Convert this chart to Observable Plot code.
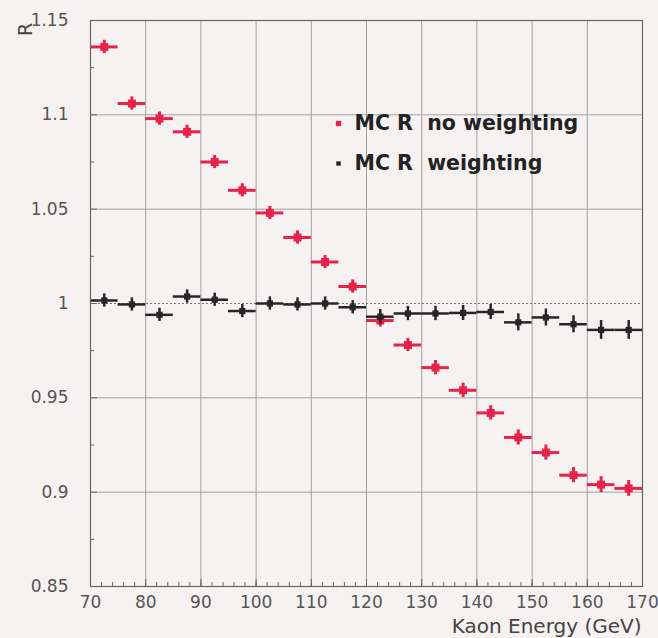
<!DOCTYPE html>
<html>
<head>
<meta charset="utf-8">
<script src="https://cdn.jsdelivr.net/npm/d3@7"></script>
<script src="https://cdn.jsdelivr.net/npm/@observablehq/plot@0.6"></script>
<style>
  html, body { margin: 0; padding: 0; background: #f6f2f2; }
  #chart { width: 658px; height: 638px; }
</style>
</head>
<body>
<div id="chart"></div>
<script>
// ---- data ----
const energy = [72.5, 77.5, 82.5, 87.5, 92.5, 97.5, 102.5, 107.5, 112.5, 117.5,
                122.5, 127.5, 132.5, 137.5, 142.5, 147.5, 152.5, 157.5, 162.5, 167.5];
const binHalfWidth = 2.5;
const rNoWeighting = [1.136, 1.106, 1.098, 1.091, 1.075, 1.060, 1.048, 1.035, 1.022, 1.009,
                      0.991, 0.978, 0.966, 0.954, 0.942, 0.929, 0.921, 0.909, 0.904, 0.902];
const errNoWeighting = [0.0035, 0.0035, 0.0035, 0.0035, 0.0035, 0.0035, 0.0035, 0.0035, 0.0035, 0.0035,
                        0.0035, 0.0035, 0.0038, 0.0038, 0.0038, 0.004, 0.004, 0.004, 0.0042, 0.0042];
const rWeighting = [1.0016, 0.9995, 0.994, 1.0037, 1.002, 0.996, 1.000, 0.9995, 1.000, 0.998,
                    0.993, 0.9947, 0.9947, 0.995, 0.9955, 0.990, 0.9926, 0.989, 0.986, 0.986];
const errWeighting = [0.0035, 0.0035, 0.0035, 0.0035, 0.0035, 0.0035, 0.0035, 0.0035, 0.0035, 0.0035,
                      0.0038, 0.0038, 0.0038, 0.004, 0.004, 0.0045, 0.0045, 0.0045, 0.005, 0.005];
const seriesNames = ["MC R\u00a0\u00a0no weighting", "MC R\u00a0\u00a0weighting"];
const seriesColors = ["#e8234a", "#262626"];
const xTicks = [70, 80, 90, 100, 110, 120, 130, 140, 150, 160, 170];
const xMinorTicks = d3.range(70, 171, 2);
const yTicks = [0.85, 0.9, 0.95, 1, 1.05, 1.1, 1.15];
const yTickLabels = ["0.85", "0.9", "0.95", "1", "1.05", "1.1", "1.15"];
const yMinorTicks = [0.875, 0.925, 0.975, 1.025, 1.075, 1.125];
const yGrid = [0.9, 0.95, 1.05, 1.1];
const xGrid = [80, 90, 100, 110, 120, 130, 140, 150, 160];
const refLine = [1];
const xTitle = "Kaon Energy (GeV)";
const yTitle = "R";

const noW = energy.map((e, i) => ({e, r: rNoWeighting[i], err: errNoWeighting[i]}));
const wt = energy.map((e, i) => ({e, r: rWeighting[i], err: errWeighting[i]}));

function series(data, color, sw, rad) {
  return [
    Plot.ruleY(data, {y: "r", x1: d => d.e - binHalfWidth, x2: d => d.e + binHalfWidth, stroke: color, strokeWidth: sw}),
    Plot.ruleX(data, {x: "e", y1: d => d.r - d.err, y2: d => d.r + d.err, stroke: color, strokeWidth: sw}),
    Plot.dot(data, {x: "e", y: "r", fill: color, r: rad, symbol: "square"})
  ];
}

const font = "'DejaVu Sans', 'Liberation Sans', Arial, sans-serif";

const chart = Plot.plot({
  width: 658,
  height: 638,
  marginLeft: 90,
  marginTop: 20,
  marginRight: 16,
  marginBottom: 52,
  style: {background: "#f6f2f2", fontFamily: font, color: "#555"},
  x: {domain: [70, 170]},
  y: {domain: [0.85, 1.15]},
  marks: [
    Plot.ruleX(xGrid, {stroke: "#a0a0a0", strokeWidth: 1}),
    Plot.ruleY(yGrid, {stroke: "#a0a0a0", strokeWidth: 1}),
    Plot.ruleY(refLine, {stroke: "#777", strokeWidth: 1, strokeDasharray: "2,2"}),
    Plot.axisX({ticks: xMinorTicks, tickSize: -4, text: null, stroke: "#666", label: null}),
    Plot.axisY({ticks: yMinorTicks, tickSize: -4, text: null, stroke: "#666", label: null}),
    Plot.axisX({ticks: xTicks, tickSize: -7, tickPadding: 16, fontSize: 17, fill: "#555", stroke: "#666", label: null}),
    Plot.axisY({ticks: yTicks, tickSize: -7, tickPadding: 29, fontSize: 17, fill: "#555", stroke: "#666", label: null,
                tickFormat: (d) => yTickLabels[yTicks.indexOf(d)]}),
    ...series(noW, seriesColors[0], 3, 4.5),
    ...series(wt, seriesColors[1], 2.5, 3.5),
    Plot.frame({stroke: "#666", strokeWidth: 1.2}),
    // legend
    Plot.dot([seriesNames[0]], {frameAnchor: "top-left", dx: 248, dy: 103, r: 3, symbol: "square", fill: seriesColors[0]}),
    Plot.dot([seriesNames[1]], {frameAnchor: "top-left", dx: 248, dy: 143, r: 2.5, symbol: "square", fill: seriesColors[1]}),
    Plot.text([seriesNames[0]], {frameAnchor: "top-left", dx: 264, dy: 103, text: d => d, textAnchor: "start", lineAnchor: "middle",
                fontSize: 20.5, fontWeight: "bold", fill: "#222"}),
    Plot.text([seriesNames[1]], {frameAnchor: "top-left", dx: 264, dy: 143, text: d => d, textAnchor: "start", lineAnchor: "middle",
                fontSize: 20.5, fontWeight: "bold", fill: "#222"}),
    // axis titles
    Plot.text([xTitle], {frameAnchor: "bottom-right", dy: 46, dx: -1, text: d => d, textAnchor: "end", lineAnchor: "bottom",
                fontSize: 20, fill: "#444"}),
    Plot.text([yTitle], {frameAnchor: "top-left", dx: -65, dy: 9, text: d => d, rotate: -90, textAnchor: "middle",
                lineAnchor: "middle", fontSize: 19, fill: "#444"})
  ]
});
document.getElementById("chart").appendChild(chart);
</script>
</body>
</html>
